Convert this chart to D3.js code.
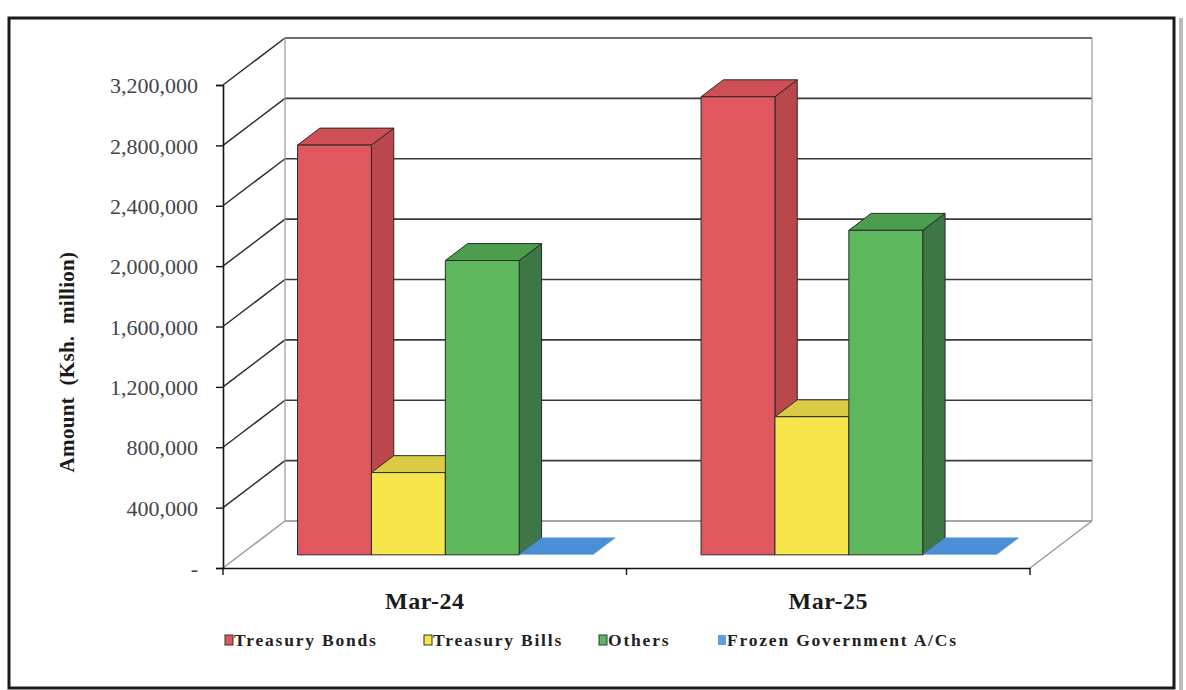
<!DOCTYPE html>
<html>
<head>
<meta charset="utf-8">
<script src="https://cdn.jsdelivr.net/npm/d3@7"></script>
<style>
  body { margin: 0; background: #fff; }
  svg { display: block; }
</style>
</head>
<body>
<div id="container"></div>
<script>
/* DATA */
const categories = ["Mar-24", "Mar-25"];
const series = ["Treasury Bonds", "Treasury Bills", "Others", "Frozen Government A/Cs"];
const treasuryBonds = [2715000, 3035000];
const treasuryBills = [545000, 915000];
const others = [1950000, 2150000];
const frozenAccounts = [3000, 3000];
const yTicks = [0, 400000, 800000, 1200000, 1600000, 2000000, 2400000, 2800000, 3200000];

const values = [treasuryBonds, treasuryBills, others, frozenAccounts];
const colors = [
  { front: "#e0575d", top: "#cf4f56", side: "#b9474c" },
  { front: "#f7e54c", top: "#d9cc44", side: "#c2b43a" },
  { front: "#5db75d", top: "#4c9e4e", side: "#3f7646" },
  { front: "#4a8fd6", top: "#4a8fd6", side: "#3f7fc0" }
];
const legendColors = ["#e0575d", "#f7e54c", "#5db75d", "#5aa0e0"];

/* CONSTANTS */
const width = 1186;
const height = 690;
const left = 223, right = 1030, bottom = 568, topY = 85;
const depthX = 62, depthY = -47;   // full depth of the 3D box
const barZ0 = 0.28, barZ1 = 0.64;  // bar depth as share of full depth
const serif = "Liberation Serif, Times New Roman, serif";

const svg = d3.select("#container")
  .append("svg")
  .attr("width", width)
  .attr("height", height)

/* SCALES */
const yScale = d3.scaleLinear()
  .domain([0, 3200000])
  .range([bottom, topY])

const xScale = d3.scaleBand()
  .domain(categories)
  .range([left, right])

const xInner = d3.scaleBand()
  .domain(series)
  .range([0, xScale.bandwidth()])
  .paddingOuter(0.73)
  .align(0.53)

// project a point (x on front plane, value, depth share z)
const P = (x, v, z) => [x + z * depthX, yScale(v) + z * depthY];
const pts = arr => arr.map(p => p.join(",")).join(" ");

/* FRAME */
svg.append("rect")
  .attr("x", 9).attr("y", 18)
  .attr("width", 1165).attr("height", 670)
  .attr("fill", "none")
  .attr("stroke", "#1a1a1a")
  .attr("stroke-width", 3)
svg.append("line")
  .attr("x1", 1181).attr("x2", 1181).attr("y1", 18).attr("y2", 690)
  .attr("stroke", "#bbb").attr("stroke-width", 4)

/* WALLS AND GRIDLINES */
const walls = svg.append("g")
// back wall gridlines
walls.selectAll("line.grid")
  .data(yTicks)
  .join("line")
  .attr("class", "grid")
  .attr("x1", left + depthX).attr("x2", right + depthX)
  .attr("y1", d => yScale(d) + depthY).attr("y2", d => yScale(d) + depthY)
  .attr("stroke", d => d === 0 ? "#888" : "#3a3a3a")
  .attr("stroke-width", 1.6)
// side wall diagonals
walls.selectAll("line.diag")
  .data(yTicks)
  .join("line")
  .attr("class", "diag")
  .attr("x1", left).attr("x2", left + depthX)
  .attr("y1", d => yScale(d)).attr("y2", d => yScale(d) + depthY)
  .attr("stroke", d => d === 0 ? "#999" : "#2a2a2a")
  .attr("stroke-width", 1.4)
// back wall vertical edges
walls.selectAll("line.edge")
  .data([left + depthX, right + depthX])
  .join("line")
  .attr("class", "edge")
  .attr("x1", d => d).attr("x2", d => d)
  .attr("y1", yScale(3200000) + depthY).attr("y2", yScale(0) + depthY)
  .attr("stroke", "#999").attr("stroke-width", 1.2)
// floor right edge
walls.append("line")
  .attr("x1", right).attr("y1", bottom)
  .attr("x2", right + depthX).attr("y2", bottom + depthY)
  .attr("stroke", "#999").attr("stroke-width", 1.4)

/* BARS */
const barG = svg.append("g")
categories.forEach((cat, ci) => {
  series.forEach((s, si) => {
    const v = values[si][ci];
    const x0 = xScale(cat) + xInner(s);
    const x1 = x0 + xInner.bandwidth();
    const c = colors[si];
    const flat = si === 3;
    const stroke = flat ? "none" : "#2a2a2a";
    // right side
    barG.append("polygon")
      .attr("points", pts([P(x1, 0, barZ0), P(x1, 0, barZ1), P(x1, v, barZ1), P(x1, v, barZ0)]))
      .attr("fill", c.side).attr("stroke", stroke).attr("stroke-width", 1)
    // top
    barG.append("polygon")
      .attr("points", pts([P(x0, v, barZ0), P(x1, v, barZ0), P(x1, v, barZ1), P(x0, v, barZ1)]))
      .attr("fill", c.top).attr("stroke", stroke).attr("stroke-width", 1)
    // front
    barG.append("polygon")
      .attr("points", pts([P(x0, 0, barZ0), P(x1, 0, barZ0), P(x1, v, barZ0), P(x0, v, barZ0)]))
      .attr("fill", c.front).attr("stroke", stroke).attr("stroke-width", 1)
  })
})

/* AXES */
const yAxis = d3.axisLeft(yScale)
  .tickValues(yTicks)
  .tickSize(7)
  .tickFormat(d => d === 0 ? "-" : d3.format(",")(d))
svg.append("g")
  .attr("transform", `translate(${left},0)`)
  .call(yAxis)
  .call(g => g.select(".domain").attr("stroke", "#111").attr("stroke-width", 1.6))
  .call(g => g.selectAll(".tick line").attr("stroke", "#111").attr("stroke-width", 1.4))
  .call(g => g.selectAll("text")
    .attr("x", -25)
    .attr("dy", "0.35em")
    .attr("font-family", serif)
    .attr("font-size", 22)
    .attr("fill", "#44444c"))

const xAxis = d3.axisBottom(xScale).tickSize(0).tickSizeOuter(0)
const xg = svg.append("g")
  .attr("transform", `translate(0,${bottom})`)
  .call(xAxis)
xg.select(".domain").attr("stroke", "#111").attr("stroke-width", 1.6)
xg.selectAll("text")
  .attr("dy", 0)
  .attr("y", 41)
  .attr("font-family", serif)
  .attr("font-size", 24)
  .attr("font-weight", "bold")
  .attr("letter-spacing", 0.5)
  .attr("fill", "#1a1a1a")
// category boundary ticks
xg.selectAll("line.cat")
  .data([left, xScale(categories[1]), right])
  .join("line")
  .attr("class", "cat")
  .attr("x1", d => d).attr("x2", d => d)
  .attr("y1", 0).attr("y2", 7)
  .attr("stroke", "#111").attr("stroke-width", 1.4)

// axis title
svg.append("text")
  .attr("transform", `translate(74,362) rotate(-90)`)
  .attr("text-anchor", "middle")
  .attr("font-family", serif)
  .attr("font-size", 21)
  .attr("font-weight", "bold")
  .attr("word-spacing", 6)
  .attr("letter-spacing", 0.3)
  .attr("fill", "#1a1a1a")
  .text("Amount (Ksh. million)")

/* LEGEND */
const legendX = [225, 424, 599, 718];
const legend = svg.append("g")
  .selectAll("g")
  .data(series)
  .join("g")
  .attr("transform", (d, i) => `translate(${legendX[i]},640)`)
legend.append("rect")
  .attr("x", 0).attr("y", -5)
  .attr("width", 8).attr("height", 10)
  .attr("fill", (d, i) => legendColors[i])
  .attr("stroke", (d, i) => i === 3 ? "none" : "#333")
  .attr("stroke-width", 1)
legend.append("text")
  .attr("x", 9).attr("y", 6)
  .attr("font-family", serif)
  .attr("font-size", 17.5)
  .attr("font-weight", "bold")
  .attr("letter-spacing", 1.8)
  .attr("fill", "#222")
  .text(d => d)
</script>
</body>
</html>
